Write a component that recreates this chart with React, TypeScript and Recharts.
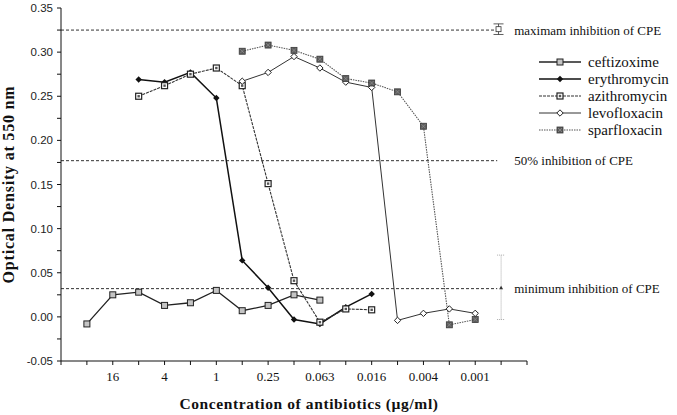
import React from "react";
import {
  ComposedChart,
  Line,
  Scatter,
  XAxis,
  YAxis,
  ReferenceLine,
  ErrorBar,
  Legend,
  Label,
} from "recharts";

// two-fold dilution steps, index 0 = 64 µg/ml
const dilutionIdx = [0, 1, 2, 3, 4, 5, 6, 7, 8, 9, 10, 11, 12, 13, 14, 15, 16, 17, 18];
const concLabels = ["", "", "16", "", "4", "", "1", "", "0.25", "", "0.063", "", "0.016", "", "0.004", "", "0.001", "", ""];

const ceftizoxime = [null, -0.008, 0.025, 0.028, 0.013, 0.016, 0.03, 0.007, 0.013, 0.025, 0.019, null, null, null, null, null, null, null, null];
const erythromycin = [null, null, null, 0.269, 0.266, 0.277, 0.248, 0.064, 0.033, -0.003, -0.008, 0.011, 0.026, null, null, null, null, null, null];
const azithromycin = [null, null, null, 0.25, 0.262, 0.275, 0.282, 0.262, 0.151, 0.041, -0.006, 0.009, 0.008, null, null, null, null, null, null];
const levofloxacin = [null, null, null, null, null, null, null, 0.267, 0.277, 0.295, 0.282, 0.266, 0.26, -0.004, 0.004, 0.009, 0.004, null, null];
const sparfloxacin = [null, null, null, null, null, null, null, 0.301, 0.308, 0.302, 0.292, 0.27, 0.265, 0.255, 0.216, -0.009, -0.003, null, null];

const yTicks = [-0.05, -0.025, 0, 0.025, 0.05, 0.075, 0.1, 0.125, 0.15, 0.175, 0.2, 0.225, 0.25, 0.275, 0.3, 0.325, 0.35];

const maxInhibition = 0.325;
const halfInhibition = 0.177;
const minInhibition = 0.032;

const maxMarker = [{ idx: 16.9, y: 0.326, err: 0.006 }];
const minMarker = [{ idx: 17, y: 0.033, err: [0.036, 0.037] }];

const rows = dilutionIdx.map((idx, i) => ({
  idx,
  ceftizoxime: ceftizoxime[i],
  erythromycin: erythromycin[i],
  azithromycin: azithromycin[i],
  levofloxacin: levofloxacin[i],
  sparfloxacin: sparfloxacin[i],
}));

const serif = "'Liberation Serif', 'Times New Roman', serif";

const Marker = ({ kind, cx, cy }: { kind: string; cx: number; cy: number }) => {
  if (cx == null || cy == null) return null;
  if (kind === "sqGray")
    return <rect x={cx - 3} y={cy - 3} width={6} height={6} fill="#c4c4c4" stroke="#222" strokeWidth={1} />;
  if (kind === "sqBox")
    return (
      <g>
        <rect x={cx - 3} y={cy - 3} width={6} height={6} fill="#fff" stroke="#222" strokeWidth={1.2} />
        <rect x={cx - 1.2} y={cy - 1.2} width={2.4} height={2.4} fill="#555" />
      </g>
    );
  if (kind === "sqHatch")
    return (
      <g>
        <rect x={cx - 3} y={cy - 3} width={6} height={6} fill="#5c5c5c" stroke="#3a3a3a" strokeWidth={0.8} />
        <path d={`M${cx - 2},${cy - 2}L${cx + 2},${cy + 2}M${cx + 2},${cy - 2}L${cx - 2},${cy + 2}`} stroke="#999" strokeWidth={0.6} />
      </g>
    );
  if (kind === "diaFilled")
    return <polygon points={`${cx},${cy - 3.2} ${cx + 3.2},${cy} ${cx},${cy + 3.2} ${cx - 3.2},${cy}`} fill="#111" />;
  return (
    <polygon
      points={`${cx},${cy - 3.2} ${cx + 3.2},${cy} ${cx},${cy + 3.2} ${cx - 3.2},${cy}`}
      fill="#fff"
      stroke="#222"
      strokeWidth={1}
    />
  );
};

const series = [
  { key: "ceftizoxime", marker: "sqGray", stroke: "#222", width: 1.3, dash: undefined },
  { key: "erythromycin", marker: "diaFilled", stroke: "#111", width: 1.5, dash: undefined },
  { key: "azithromycin", marker: "sqBox", stroke: "#333", width: 1.1, dash: "3 1" },
  { key: "levofloxacin", marker: "diaOpen", stroke: "#333", width: 1, dash: undefined },
  { key: "sparfloxacin", marker: "sqHatch", stroke: "#555", width: 1.1, dash: "1.5 1" },
];

const LegendBox = () => (
  <div style={{ fontFamily: serif, fontSize: 15, color: "#111" }}>
    {series.map((s) => (
      <div key={s.key} style={{ display: "flex", alignItems: "center", height: 16.8 }}>
        <svg width={50} height={14}>
          <line x1={1} y1={7} x2={43} y2={7} stroke={s.stroke} strokeWidth={s.width} strokeDasharray={s.dash} />
          <Marker kind={s.marker} cx={22} cy={7} />
        </svg>
        <span style={{ lineHeight: "16px" }}>{s.key}</span>
      </div>
    ))}
  </div>
);

const refLabel = (value: string) => ({
  value,
  position: "right" as const,
  offset: 17,
  fill: "#111",
  fontSize: 13,
  fontFamily: serif,
});

export default function App() {
  return (
    <div style={{ position: "absolute", left: 0, top: 0, background: "#fff" }}>
      <ComposedChart width={677} height={415} data={rows} margin={{ top: 8, right: 150, bottom: 0, left: 0 }}>
        <XAxis
          dataKey="idx"
          type="number"
          domain={[0, 18]}
          ticks={dilutionIdx}
          interval={0}
          tickFormatter={(v: number) => concLabels[v] ?? ""}
          height={54}
          tickSize={4}
          tickMargin={7}
          stroke="#111"
          tick={{ fill: "#111", fontSize: 13, fontFamily: serif }}
        >
          <Label
            value="Concentration of antibiotics (µg/ml)"
            position="insideBottom"
            offset={6}
            dx={15}
            style={{ fontFamily: serif, fontSize: 15.5, fontWeight: "bold", fill: "#111", letterSpacing: 0.6 }}
          />
        </XAxis>
        <YAxis
          type="number"
          domain={[-0.05, 0.35]}
          ticks={yTicks}
          interval={0}
          width={61}
          tickSize={4}
          tickMargin={4}
          stroke="#111"
          tickFormatter={(v: number) => (Math.abs((v * 100) % 5) < 0.01 || Math.abs(Math.abs((v * 100) % 5) - 5) < 0.01 ? v.toFixed(2) : "")}
          tick={{ fill: "#222", fontSize: 11.5, fontFamily: "'Liberation Sans', Arial, sans-serif" }}
        >
          <Label
            value="Optical Density at 550 nm"
            angle={-90}
            position="insideLeft"
            offset={8}
            style={{ textAnchor: "middle", fontFamily: serif, fontSize: 16, fontWeight: "bold", fill: "#111", letterSpacing: 0.8 }}
          />
        </YAxis>

        <ReferenceLine
          segment={[{ x: 0, y: maxInhibition }, { x: 16.85, y: maxInhibition }]}
          stroke="#333"
          strokeDasharray="3 2"
          label={refLabel("maximam inhibition of CPE")}
        />
        <ReferenceLine
          segment={[{ x: 0, y: halfInhibition }, { x: 16.85, y: halfInhibition }]}
          stroke="#333"
          strokeDasharray="3 2"
          label={refLabel("50% inhibition of CPE")}
        />
        <ReferenceLine
          segment={[{ x: 0, y: minInhibition }, { x: 16.85, y: minInhibition }]}
          stroke="#333"
          strokeDasharray="3 2"
          label={refLabel("minimum inhibition of CPE")}
        />

        {series.map((s) => (
          <Line
            key={s.key}
            dataKey={s.key}
            type="linear"
            stroke={s.stroke}
            strokeWidth={s.width}
            strokeDasharray={s.dash}
            isAnimationActive={false}
            dot={(p: any) => <Marker key={`${s.key}-${p.index}`} kind={s.marker} cx={p.cx} cy={p.cy} />}
            activeDot={false}
          />
        ))}

        <Scatter
          data={maxMarker}
          dataKey="y"
          isAnimationActive={false}
          shape={(p: any) => <rect x={p.cx - 2.5} y={p.cy - 2.5} width={5} height={5} fill="#fff" stroke="#333" strokeWidth={0.8} />}
        >
          <ErrorBar dataKey="err" direction="y" width={5} stroke="#333" strokeWidth={0.8} />
        </Scatter>
        <Scatter
          data={minMarker}
          dataKey="y"
          isAnimationActive={false}
          shape={(p: any) => <polygon points={`${p.cx},${p.cy - 2} ${p.cx + 2},${p.cy + 1.5} ${p.cx - 2},${p.cy + 1.5}`} fill="#333" />}
        >
          <ErrorBar dataKey="err" direction="y" width={4} stroke="#aaa" strokeWidth={1} strokeDasharray="1 1" />
        </Scatter>

        <Legend
          layout="horizontal"
          verticalAlign="middle"
          align="center"
          content={() => <LegendBox />}
          wrapperStyle={{ left: 538, top: 54, width: 139 }}
        />
      </ComposedChart>
    </div>
  );
}
